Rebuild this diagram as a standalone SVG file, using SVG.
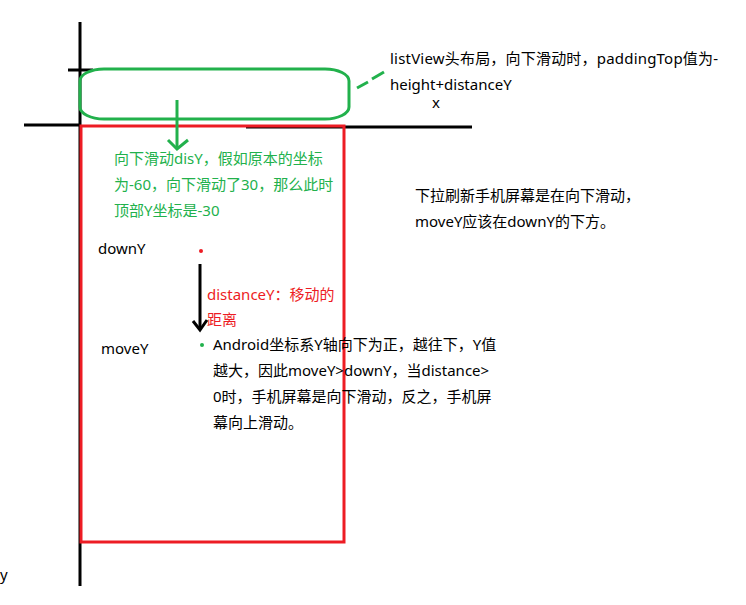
<svg xmlns="http://www.w3.org/2000/svg" width="746" height="605" viewBox="0 0 746 605">
<style>
text{font-family:"Noto Sans","Noto Sans CJK SC",sans-serif;font-size:15px;fill:#000}
.g{fill:#22b14c}
.r{fill:#ed1c24}
.ax{stroke:#000;stroke-width:3;fill:none}
</style>
<rect width="746" height="605" fill="#fff"/>
<g id="axes">
<line class="ax" x1="80" y1="22" x2="80" y2="586"/>
<line class="ax" x1="24" y1="125" x2="80" y2="125"/>
<line class="ax" x1="246" y1="127" x2="472" y2="127"/>
<line class="ax" x1="68" y1="70" x2="93" y2="70"/>
</g>
<g id="phone">
<rect x="81" y="126" width="263" height="416" fill="none" stroke="#ed1c24" stroke-width="3"/>
</g>
<g id="header">
<rect x="80" y="69" width="269" height="50" rx="24" ry="12" fill="none" stroke="#22b14c" stroke-width="3"/>
</g>
<g id="connectors">
<line x1="177" y1="100" x2="177" y2="148" stroke="#22b14c" stroke-width="3"/>
<polyline points="168,140 177,149 188,140" fill="none" stroke="#22b14c" stroke-width="3"/>
<line x1="357" y1="88" x2="368" y2="82" stroke="#22b14c" stroke-width="3"/>
<line x1="372" y1="79" x2="384" y2="72" stroke="#22b14c" stroke-width="3"/>
<line x1="200" y1="264" x2="200" y2="330" stroke="#000" stroke-width="3"/>
<polyline points="193,321 200,330 207,320" fill="none" stroke="#000" stroke-width="3"/>
</g>
<g id="dots">
<circle cx="201" cy="251" r="2" fill="#ed1c24"/>
<circle cx="202" cy="345" r="2" fill="#22b14c"/>
</g>
<g id="labels">
<text x="390" y="64" letter-spacing="0.2">listView头布局，向下滑动时，paddingTop值为-</text>
<text x="390" y="90">height+distanceY</text>
<text x="432" y="108">x</text>
<text class="g" x="114" y="164">向下滑动disY，假如原本的坐标</text>
<text class="g" x="114" y="190">为-60，向下滑动了30，那么此时</text>
<text class="g" x="114" y="216">顶部Y坐标是-30</text>
<text x="415" y="201">下拉刷新手机屏幕是在向下滑动，</text>
<text x="415" y="227">moveY应该在downY的下方。</text>
<text x="98" y="254">downY</text>
<text class="r" x="207" y="300">distanceY：移动的</text>
<text class="r" x="207" y="325">距离</text>
<text x="101" y="354">moveY</text>
<text x="213" y="350">Android坐标系Y轴向下为正，越往下，Y值</text>
<text x="213" y="376">越大，因此moveY&gt;downY，当distance&gt;</text>
<text x="213" y="402">0时，手机屏幕是向下滑动，反之，手机屏</text>
<text x="213" y="428">幕向上滑动。</text>
<text x="0" y="580">y</text>
</g>
</svg>
